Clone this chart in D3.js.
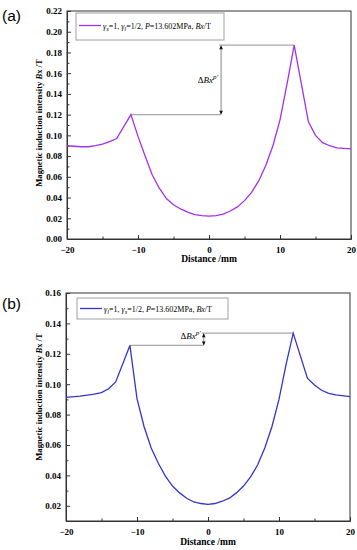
<!DOCTYPE html>
<html>
<head>
<meta charset="utf-8">
<script src="https://cdn.jsdelivr.net/npm/d3@7"></script>
<style>
  body { margin: 0; background: #fff; }
  svg { display: block; }
  text { font-family: "Liberation Serif", "Times New Roman", serif; }
</style>
</head>
<body>
<svg width="357" height="550"></svg>
<script>
// distance (mm) and Bx (T)
var distA = [-20, -18, -17, -16, -15, -14, -13, -11, -10, -9, -8, -7, -6, -5, -4, -3, -2, -1, 0, 1, 2, 3, 4, 5, 6, 7, 8, 9, 10, 11, 12, 14, 15, 16, 17, 18, 20];
var bxA = [0.090, 0.089, 0.089, 0.090, 0.0915, 0.094, 0.097, 0.120, 0.099, 0.080, 0.062, 0.049, 0.039, 0.033, 0.029, 0.026, 0.0235, 0.0225, 0.022, 0.0225, 0.024, 0.027, 0.031, 0.037, 0.045, 0.056, 0.071, 0.090, 0.115, 0.150, 0.187, 0.113, 0.100, 0.093, 0.090, 0.088, 0.087];

var distB = [-20, -18, -16, -15, -14, -13, -11, -10, -9, -8, -7, -6, -5, -4, -3, -2, -1, 0, 1, 2, 3, 4, 5, 6, 7, 8, 9, 10, 11, 12, 14, 15, 16, 17, 18, 20];
var bxB = [0.0913, 0.0922, 0.0935, 0.0945, 0.097, 0.1015, 0.1255, 0.0905, 0.072, 0.058, 0.048, 0.0395, 0.033, 0.0285, 0.025, 0.0225, 0.0215, 0.021, 0.0215, 0.023, 0.025, 0.0285, 0.033, 0.039, 0.047, 0.058, 0.072, 0.090, 0.113, 0.1336, 0.104, 0.0995, 0.096, 0.094, 0.093, 0.0918];

var xTicks = [-20, -10, 0, 10, 20];
var xMinor = [-15, -5, 5, 15];
var yTicksA = [0.00, 0.02, 0.04, 0.06, 0.08, 0.10, 0.12, 0.14, 0.16, 0.18, 0.20, 0.22];
var yTicksB = [0.02, 0.04, 0.06, 0.08, 0.10, 0.12, 0.14, 0.16];

var svg = d3.select("svg");

var panels = [
  {
    tag: "(a)", top: 11, left: 67, yDomain: [0, 0.22], yTicks: yTicksA,
    dist: distA, bx: bxA, color: "#a22ff5",
    sub1: "s", sub2: "l", annoX: 1.7, lowPeak: -11, highPeak: 12,
    legend: { x: 9, y: 2, w: 148, h: 27 }, tagY: 21, titleY: 262, yTitleShift: -2
  },
  {
    tag: "(b)", top: 293, left: 66, yDomain: [0.01, 0.16], yTicks: yTicksB,
    dist: distB, bx: bxB, color: "#3434d0",
    sub1: "l", sub2: "s", annoX: -0.6, lowPeak: -11, highPeak: 12,
    legend: { x: 11, y: 5, w: 151, h: 21 }, tagY: 309, titleY: 545, yTitleShift: -10
  }
];

var width = 284, height = 228;

panels.forEach(function(p) {
  var x = d3.scaleLinear().domain([-20, 20]).range([0, width]);
  var y = d3.scaleLinear().domain(p.yDomain).range([height, 0]);

  var g = svg.append("g")
    .attr("transform", "translate(" + p.left + "," + p.top + ")");

  // panel tag
  svg.append("text")
    .attr("x", 2)
    .attr("y", p.tagY)
    .style("font-family", "'Liberation Sans', Arial, sans-serif")
    .style("font-size", "15.5px")
    .text(p.tag);

  // frame
  g.append("rect")
    .attr("width", width)
    .attr("height", height)
    .attr("fill", "none")
    .attr("stroke", "#333")
    .attr("stroke-width", 1);

  // x axis, ticks pointing inward
  var xAxis = d3.axisBottom(x).tickValues(xTicks).tickSizeInner(-4).tickSizeOuter(0).tickPadding(8)
    .tickFormat(function(d) { return d < 0 ? "\u2212" + Math.abs(d) : d; });
  var gx = g.append("g")
    .attr("transform", "translate(0," + height + ")")
    .call(xAxis);
  gx.selectAll("text").style("font-size", "9px").style("font-weight", "bold").attr("fill", "#000");

  g.append("g")
    .attr("transform", "translate(0," + height + ")")
    .call(d3.axisBottom(x).tickValues(xMinor).tickSizeInner(-2.5).tickSizeOuter(0).tickFormat(""));

  // y axis
  var yAxis = d3.axisLeft(y).tickValues(p.yTicks).tickSizeInner(-4).tickSizeOuter(0).tickPadding(5)
    .tickFormat(d3.format(".2f"));
  var gy = g.append("g").call(yAxis);
  gy.selectAll("text").style("font-size", "9px").style("font-weight", "bold").attr("fill", "#000");

  var yMinor = p.yTicks.map(function(t) { return t - 0.01; }).filter(function(t) { return t >= p.yDomain[0] - 1e-9; });
  g.append("g")
    .call(d3.axisLeft(y).tickValues(yMinor).tickSizeInner(-2.5).tickSizeOuter(0).tickFormat(""));

  g.selectAll(".domain").attr("stroke", "#333");
  g.selectAll(".tick line").attr("stroke", "#333");

  // axis titles
  svg.append("text")
    .attr("x", p.left + width / 2)
    .attr("y", p.titleY)
    .attr("text-anchor", "middle")
    .style("font-size", "9.5px")
    .style("font-weight", "bold")
    .text("Distance /mm");

  var yt = svg.append("text")
    .attr("transform", "translate(42," + (p.top + height / 2 + p.yTitleShift) + ") rotate(-90)")
    .attr("text-anchor", "middle")
    .style("font-size", "8.6px")
    .style("font-weight", "bold");
  yt.append("tspan").text("Magnetic induction intensity ");
  yt.append("tspan").style("font-style", "italic").text("B");
  yt.append("tspan").text("x /T");

  // annotation: peak-difference guide lines
  var lowI = p.dist.indexOf(p.lowPeak), highI = p.dist.indexOf(p.highPeak);
  var lowV = p.bx[lowI], highV = p.bx[highI];
  g.append("line")
    .attr("x1", x(p.lowPeak)).attr("x2", x(p.annoX))
    .attr("y1", y(lowV)).attr("y2", y(lowV))
    .attr("stroke", "#a8a8a8").attr("stroke-width", 1.2);
  g.append("line")
    .attr("x1", x(p.annoX) - 2).attr("x2", x(p.highPeak))
    .attr("y1", y(highV)).attr("y2", y(highV))
    .attr("stroke", "#a8a8a8").attr("stroke-width", 1.2);

  // double arrow
  var ax = x(p.annoX);
  g.append("line")
    .attr("x1", ax).attr("x2", ax)
    .attr("y1", y(highV) + 1).attr("y2", y(lowV) - 1)
    .attr("stroke", "#666").attr("stroke-width", 0.8);
  [[y(highV), 1], [y(lowV), -1]].forEach(function(a) {
    g.append("path")
      .attr("d", "M" + (ax - 1.8) + "," + (a[0] + a[1] * 4) + "L" + ax + "," + a[0] + "L" + (ax + 1.8) + "," + (a[0] + a[1] * 4) + "Z")
      .attr("fill", "#111");
  });

  var lab = g.append("text")
    .attr("x", ax - 3)
    .attr("y", (y(highV) + y(lowV)) / 2 + 3)
    .attr("text-anchor", "end")
    .style("font-size", "9px");
  if (p.tag === "(b)") lab.attr("y", y(highV) + 6);
  lab.append("tspan").text("\u0394");
  lab.append("tspan").style("font-style", "italic").text("Bx");
  lab.append("tspan").style("font-style", "italic").style("font-size", "7px").attr("dy", -4).text("p\u2032");

  // curve
  var line = d3.line()
    .x(function(d, i) { return x(p.dist[i]); })
    .y(function(d) { return y(d); });
  g.append("path")
    .datum(p.bx)
    .attr("d", line)
    .attr("fill", "none")
    .attr("stroke", p.color)
    .attr("stroke-width", 1.3);

  // legend
  var lg = g.append("g").attr("transform", "translate(" + p.legend.x + "," + p.legend.y + ")");
  lg.append("rect")
    .attr("width", p.legend.w)
    .attr("height", p.legend.h)
    .attr("fill", "#fff")
    .attr("stroke", "#a0a0a0")
    .attr("stroke-width", 1);
  var ly = p.legend.h / 2 - (p.tag === "(a)" ? 1 : 0);
  lg.append("line")
    .attr("x1", 3).attr("x2", 25)
    .attr("y1", ly).attr("y2", ly)
    .attr("stroke", p.color).attr("stroke-width", 1.3);
  var lt = lg.append("text")
    .attr("x", 27)
    .attr("y", ly + 3)
    .style("font-size", "8px");
  lt.append("tspan").style("font-style", "italic").text("\u03b3");
  lt.append("tspan").style("font-style", "italic").style("font-size", "6.5px").attr("dy", 2.5).text(p.sub1);
  lt.append("tspan").attr("dy", -2.5).text("=1, ");
  lt.append("tspan").style("font-style", "italic").text("\u03b3");
  lt.append("tspan").style("font-style", "italic").style("font-size", "6.5px").attr("dy", 2.5).text(p.sub2);
  lt.append("tspan").attr("dy", -2.5).text("=1/2, ");
  lt.append("tspan").style("font-style", "italic").text("P");
  lt.append("tspan").text("=13.602MPa, ");
  lt.append("tspan").style("font-style", "italic").text("Bx");
  lt.append("tspan").text("/T");
});
</script>
</body>
</html>
